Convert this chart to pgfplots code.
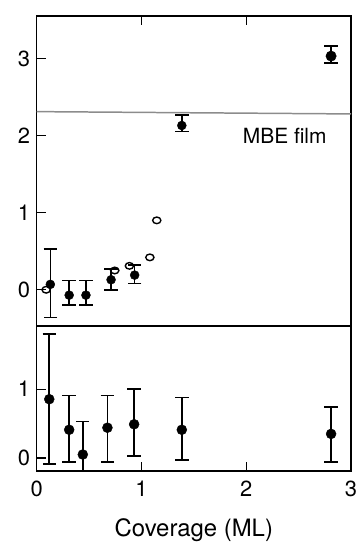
\documentclass[border=0pt]{standalone}
\usepackage{fontspec}
\setmainfont{TeX Gyre Heros}
\usepackage{pgfplots}
\pgfplotsset{compat=1.18}
\begin{document}
\begin{tikzpicture}
\pgfplotsset{
  every axis/.append style={
    scale only axis, width=314.3bp, xmin=0, xmax=3,
    axis line style={line width=1.5pt},
    tick style={line width=1.4pt, black},
    major tick length=9bp,
    ytick pos=left,
    tick align=inside,
    ticklabel style={font=\fontsize{22}{26}\selectfont},
    yticklabel style={xshift=-3bp},
    /pgf/number format/assume math mode=true,
  },
  ebar/.style={only marks, black, mark=*, mark size=#1,
    error bars/.cd, y dir=both, y explicit,
    error bar style={line width=1.6pt, black},
    error mark options={line width=1.6pt, mark size=6.7bp, rotate=90, black}},
}
\begin{axis}[name=top, height=310bp, ymin=-0.47, ymax=3.55,
  ytick={0,1,2,3}, xtick={1,2}, xtick pos=right, xticklabels={}]
\addplot[black!45, line width=1.5pt] coordinates {(0,2.31) (3,2.28)};
\addplot[only marks, mark=o, mark size=3.3bp, mark options={line width=1.4pt, fill=white, black, xscale=1.25}] coordinates {
  (0.09,0.00) (0.745,0.25) (0.885,0.31) (1.08,0.42) (1.146,0.90)};
\addplot[ebar=4.5bp] table[x=x, y=y, y error plus=ep, y error minus=em] {
x y ep em
0.13 0.07 0.46 0.43
0.31 -0.07 0.19 0.13
0.47 -0.07 0.19 0.13
0.71 0.13 0.14 0.13
0.935 0.19 0.13 0.11
1.385 2.13 0.14 0.08
};
\addplot[ebar=5.2bp] table[x=x, y=y, y error plus=ep, y error minus=em] {
x y ep em
2.81 3.03 0.13 0.09
};
\node[anchor=west, inner sep=0pt, font=\fontsize{21}{25}\selectfont] at (axis cs:1.966,1.99) {MBE film};
\end{axis}
\begin{axis}[name=bot, at={(top.south west)}, anchor=north west, height=145bp,
  ymin=-0.19, ymax=1.92, ytick={0,1}, xtick={0,1,2,3}, xtick pos=left,
  xticklabel style={yshift=-6bp},
  xlabel={Coverage (ML)},
  xlabel style={font=\fontsize{24}{28}\selectfont, at={(axis description cs:0.5,0)}, anchor=base, yshift=-65.5bp}]
\addplot[ebar=5bp] table[x=x, y=y, y error plus=ep, y error minus=em] {
x y ep em
0.12 0.855 0.945 0.945
0.31 0.41 0.50 0.47
0.44 0.05 0.48 0.60
0.675 0.44 0.47 0.50
0.93 0.49 0.51 0.46
1.385 0.41 0.47 0.44
2.81 0.35 0.39 0.41
};
\end{axis}
\pgfresetboundingbox
\path ([shift={(-36.7bp,-71bp)}]bot.south west) rectangle ([shift={(11bp,16bp)}]top.north east);
\end{tikzpicture}
\end{document}
